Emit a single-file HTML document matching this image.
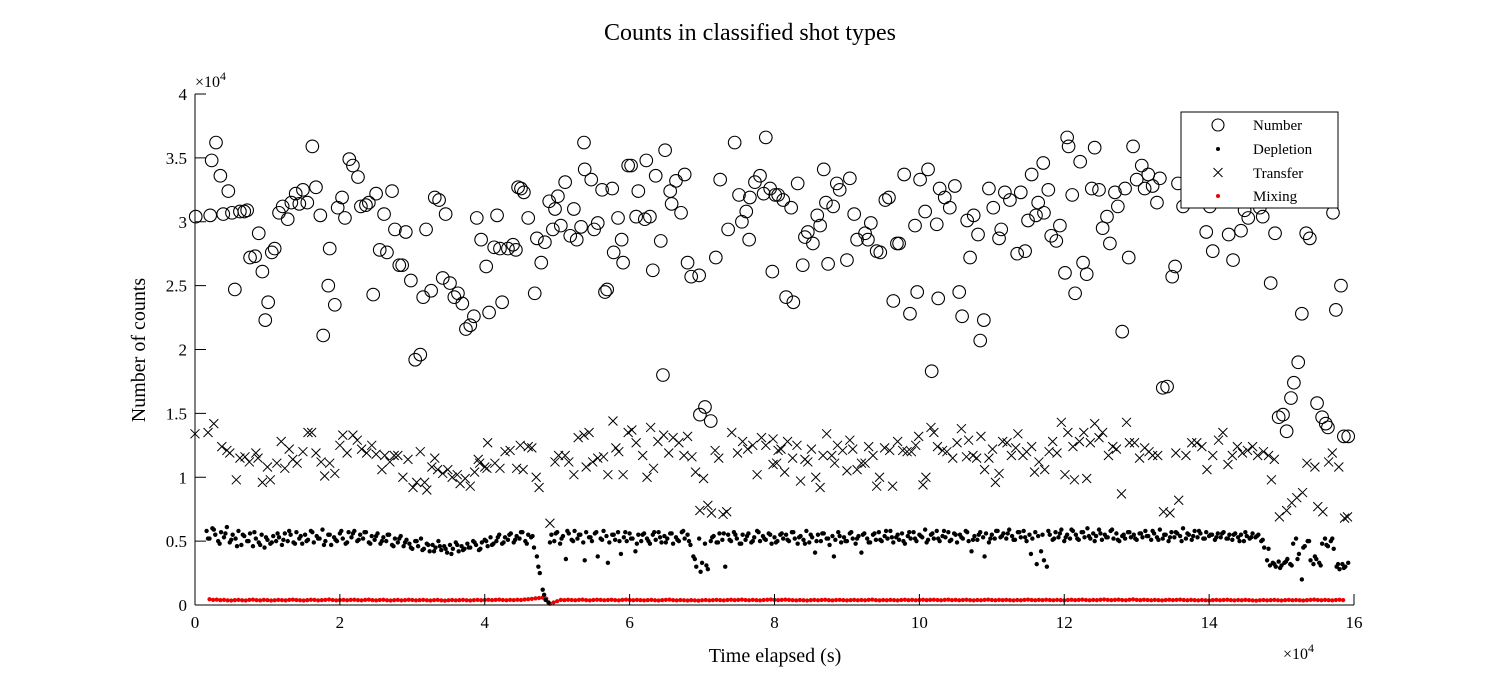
<!DOCTYPE html>
<html><head><meta charset="utf-8"><style>
html,body{margin:0;padding:0;background:#fff;}
svg{display:block;font-family:"Liberation Serif","DejaVu Serif",serif;}
</style></head><body>
<svg id="chart" width="1497" height="678" viewBox="0 0 1497 678" xmlns="http://www.w3.org/2000/svg">
<rect x="0" y="0" width="1497" height="678" fill="#fff"/>
<text x="750" y="40" text-anchor="middle" font-size="24">Counts in classified shot types</text>
<text transform="translate(145,350) rotate(-90)" text-anchor="middle" font-size="20">Number of counts</text>
<text x="775" y="662" text-anchor="middle" font-size="20">Time elapsed (s)</text>
<text x="195" y="87" font-size="16">×10<tspan dy="-7" font-size="12">4</tspan></text>
<text x="1283" y="659" font-size="16">×10<tspan dy="-7" font-size="12">4</tspan></text>
<g id="plot"></g>
<g id="axes"></g>
<g>
<rect x="1181" y="112" width="157" height="96" fill="#fff" stroke="#000" stroke-width="1"/>
<circle cx="1218" cy="125" r="6" fill="none" stroke="#000" stroke-width="1.1"/>
<text x="1253" y="130" font-size="15">Number</text>
<circle cx="1218" cy="149" r="2" fill="#000"/>
<text x="1253" y="154" font-size="15">Depletion</text>
<g stroke="#000" stroke-width="1"><line x1="1213.5" y1="168" x2="1222.5" y2="177"/><line x1="1213.5" y1="177" x2="1222.5" y2="168"/></g>
<text x="1253" y="178" font-size="15">Transfer</text>
<circle cx="1218" cy="196" r="2" fill="#e00"/>
<text x="1253" y="201" font-size="15">Mixing</text>
</g>
</svg>
<script>
// values in units of 1e4
const xTicks=[0,2,4,6,8,10,12,14,16];
const xTickLabels=["0","2","4","6","8","10","12","14","16"];
const yTicks=[0,0.5,1,1.5,2,2.5,3,3.5,4];
const yTickLabels=["0","0.5","1","1.5","2","2.5","3","3.5","4"];

const numT=[0.01,0.21,0.23,0.29,0.35,0.39,0.46,0.51,0.55,0.62,0.68,0.72,0.76,0.83,0.88,0.93,0.97,1.01,1.06,1.10,1.16,1.21,1.28,1.33,1.39,1.44,1.49,1.55,1.62,1.67,1.73,1.77,1.84,1.86,1.93,1.97,2.03,2.07,2.13,2.18,2.25,2.29,2.36,2.40,2.46,2.50,2.55,2.61,2.65,2.72,2.76,2.82,2.86,2.91,2.98,3.04,3.11,3.15,3.19,3.26,3.31,3.37,3.42,3.46,3.52,3.58,3.63,3.69,3.74,3.80,3.85,3.89,3.95,4.02,4.06,4.13,4.17,4.21,4.24,4.32,4.39,4.43,4.46,4.50,4.54,4.60,4.69,4.72,4.78,4.83,4.89,4.94,4.97,5.01,5.05,5.11,5.18,5.23,5.27,5.33,5.37,5.38,5.47,5.51,5.56,5.62,5.66,5.69,5.76,5.78,5.84,5.89,5.91,5.98,6.02,6.09,6.12,6.21,6.23,6.28,6.32,6.36,6.43,6.46,6.49,6.56,6.58,6.64,6.71,6.76,6.80,6.85,6.96,6.97,7.04,7.12,7.19,7.25,7.36,7.45,7.51,7.55,7.61,7.66,7.65,7.73,7.80,7.85,7.88,7.94,7.97,8.01,8.05,8.12,8.16,8.23,8.26,8.32,8.39,8.42,8.46,8.53,8.59,8.63,8.68,8.71,8.74,8.81,8.86,8.90,9.00,9.04,9.10,9.14,9.25,9.29,9.33,9.41,9.46,9.53,9.58,9.64,9.69,9.72,9.79,9.87,9.94,9.97,10.01,10.08,10.12,10.17,10.24,10.26,10.28,10.35,10.42,10.49,10.55,10.59,10.66,10.70,10.75,10.81,10.84,10.89,10.96,11.02,11.10,11.13,11.18,11.25,11.35,11.40,11.46,11.50,11.55,11.61,11.64,11.71,11.72,11.78,11.82,11.89,11.94,12.04,12.06,12.22,12.42,12.95,13.07,13.16,13.32,13.00,13.11,13.22,13.28,12.84,12.70,12.48,12.38,12.11,12.74,12.59,12.53,12.63,12.89,12.26,12.31,12.01,12.15,12.80,13.53,13.49,13.36,13.42,13.57,13.64,13.96,14.05,14.33,14.27,14.44,14.54,14.74,14.91,15.34,15.39,14.85,15.71,15.82,15.75,15.28,15.23,15.17,15.13,14.96,15.02,15.07,15.49,15.56,15.61,15.64,15.86,15.92,14.01,14.49,14.70];
const numV=[3.04,3.05,3.48,3.62,3.36,3.06,3.24,3.07,2.47,3.08,3.08,3.09,2.72,2.73,2.91,2.61,2.23,2.37,2.76,2.79,3.07,3.12,3.02,3.15,3.22,3.14,3.25,3.15,3.59,3.27,3.05,2.11,2.50,2.79,2.35,3.11,3.19,3.03,3.49,3.44,3.35,3.12,3.13,3.15,2.43,3.22,2.78,3.06,2.76,3.24,2.94,2.66,2.66,2.92,2.54,1.92,1.96,2.41,2.94,2.46,3.19,3.17,2.56,3.06,2.52,2.41,2.44,2.36,2.16,2.19,2.26,3.03,2.86,2.65,2.29,2.80,3.05,2.79,2.37,2.79,2.82,2.78,3.27,3.26,3.23,3.03,2.44,2.87,2.68,2.84,3.16,2.94,3.10,3.20,2.97,3.31,2.89,3.10,2.86,2.96,3.62,3.41,3.33,2.94,2.99,3.25,2.45,2.47,3.26,2.76,3.03,2.86,2.68,3.44,3.44,3.04,3.24,3.02,3.48,3.04,2.62,3.36,2.85,1.80,3.56,3.24,3.14,3.32,3.07,3.37,2.68,2.57,2.58,1.49,1.55,1.44,2.72,3.33,2.94,3.62,3.21,3.00,3.08,3.19,2.86,3.31,3.36,3.22,3.66,3.26,2.61,3.21,3.21,3.17,2.41,3.11,2.37,3.30,2.66,2.88,2.92,2.83,3.05,2.97,3.41,3.15,2.67,3.12,3.30,3.25,2.70,3.34,3.06,2.86,2.91,2.86,2.99,2.77,2.76,3.17,3.19,2.38,2.83,2.83,3.37,2.28,2.97,2.45,3.33,3.08,3.41,1.83,2.98,2.40,3.26,3.19,3.11,3.28,2.45,2.26,3.01,2.72,3.05,2.90,2.07,2.23,3.26,3.11,2.87,2.94,3.23,3.17,2.75,3.23,2.77,3.01,3.37,3.05,3.15,3.46,3.07,3.25,2.89,2.85,2.97,3.66,3.59,3.47,3.58,3.59,3.44,3.37,3.34,3.33,3.26,3.28,3.15,3.26,3.23,3.25,3.26,3.21,3.12,3.04,2.95,2.83,2.72,2.68,2.59,2.60,2.44,2.14,2.65,2.57,1.70,1.71,3.30,3.12,2.92,2.77,2.70,2.90,2.93,3.03,3.04,2.91,2.91,2.87,2.52,3.07,2.50,2.31,2.28,1.90,1.74,1.62,1.47,1.49,1.36,1.58,1.47,1.42,1.39,1.32,1.32,3.12,3.09,3.11];

const trT=[0.00,0.18,0.26,0.37,0.44,0.48,0.57,0.62,0.69,0.75,0.84,0.87,0.93,1.00,1.04,1.13,1.19,1.24,1.30,1.35,1.41,1.49,1.56,1.61,1.67,1.74,1.79,1.86,1.93,2.00,2.04,2.10,2.18,2.24,2.30,2.37,2.44,2.50,2.58,2.62,2.69,2.75,2.80,2.87,2.94,3.01,3.11,3.06,3.17,3.20,3.31,3.27,3.35,3.42,3.49,3.55,3.62,3.66,3.73,3.80,3.86,3.91,4.00,4.04,3.93,4.03,4.14,4.21,4.28,4.35,4.44,4.49,4.53,4.60,4.65,4.71,4.75,4.90,4.97,5.02,5.11,5.16,5.23,5.29,5.37,5.44,5.40,5.49,5.56,5.64,5.70,5.77,5.81,5.85,5.91,5.98,6.03,6.09,6.18,6.24,6.29,6.33,6.39,6.47,6.54,6.60,6.68,6.75,6.80,6.86,6.91,7.02,6.97,7.08,7.13,7.29,7.34,7.18,7.23,7.41,7.49,7.56,7.63,7.70,7.76,7.82,7.88,7.98,7.98,8.05,8.03,8.09,8.14,8.18,8.25,8.31,8.36,8.42,8.46,8.51,8.57,8.63,8.67,8.72,8.79,8.83,8.87,8.94,9.00,9.04,9.08,9.14,9.20,9.25,9.30,9.36,9.41,9.45,9.52,9.59,9.63,9.70,9.77,9.83,9.89,9.95,9.99,10.05,10.09,10.16,10.20,10.25,10.32,10.38,10.46,10.52,10.58,10.65,10.68,10.74,10.79,10.85,10.90,10.96,11.01,11.05,11.10,11.15,11.21,11.27,11.33,11.36,11.43,11.48,11.55,11.59,11.65,11.73,11.79,11.84,11.90,11.96,12.01,12.05,12.12,12.21,12.27,12.36,12.42,12.48,12.53,12.61,12.67,12.72,12.86,12.90,12.97,13.04,13.11,13.17,13.22,13.29,12.79,12.14,12.31,13.54,13.68,13.76,13.83,13.90,13.97,14.05,14.13,14.19,14.26,14.32,14.39,14.46,14.53,14.60,14.67,14.75,14.82,14.90,14.86,13.58,13.37,13.46,14.97,15.07,15.14,15.21,15.29,15.35,15.46,15.50,15.57,15.65,15.70,15.79,15.87,15.91];
const trV=[1.34,1.35,1.42,1.24,1.21,1.19,0.98,1.15,1.16,1.12,1.19,1.15,0.96,1.08,0.98,1.11,1.28,1.07,1.22,1.14,1.11,1.20,1.35,1.35,1.19,1.12,1.01,1.11,1.03,1.25,1.33,1.19,1.33,1.29,1.22,1.19,1.25,1.18,1.06,1.17,1.12,1.17,1.17,1.00,1.14,0.92,1.20,0.96,0.96,0.90,1.15,1.08,1.06,1.03,1.06,1.00,1.02,0.95,0.99,0.93,1.04,1.14,1.08,1.27,1.11,1.07,1.11,1.07,1.20,1.21,1.07,1.25,1.06,1.24,1.23,1.00,0.92,0.64,1.12,1.17,1.17,1.12,1.02,1.31,1.33,1.35,1.08,1.12,1.15,1.16,1.02,1.44,1.23,1.20,1.02,1.35,1.37,1.27,1.17,1.00,1.39,1.07,1.28,1.33,1.19,1.31,1.27,1.17,1.32,1.16,1.04,0.99,0.74,0.78,0.72,0.71,0.73,1.21,1.15,1.35,1.19,1.28,1.22,1.25,1.02,1.31,1.25,1.30,1.10,1.21,1.11,1.22,1.04,1.28,1.15,1.25,0.97,1.14,1.12,1.22,1.00,0.92,1.17,1.34,1.17,1.11,1.25,1.21,1.05,1.29,1.22,1.06,1.11,1.11,1.24,1.17,0.93,1.00,1.23,1.21,0.93,1.28,1.21,1.20,1.20,1.25,1.32,0.94,1.00,1.39,1.35,1.24,1.21,1.20,1.15,1.27,1.38,1.16,1.29,1.17,1.15,1.32,1.06,1.15,1.22,0.96,1.03,1.28,1.27,1.17,1.23,1.34,1.17,1.20,1.24,1.04,1.12,1.06,1.20,1.28,1.19,1.43,1.02,1.35,1.24,1.28,1.35,1.27,1.42,1.31,1.35,1.17,1.24,1.22,1.43,1.27,1.27,1.15,1.23,1.20,1.17,1.17,0.87,0.98,0.99,1.19,1.17,1.27,1.27,1.24,1.06,1.17,1.29,1.35,1.10,1.17,1.24,1.19,1.21,1.24,1.17,1.20,1.17,1.14,0.98,0.82,0.73,0.72,0.69,0.74,0.80,0.84,0.88,1.11,1.08,0.77,0.73,1.12,1.19,1.08,0.68,0.69];

const depStart=0.16, depStep=0.04;
const depV=[
0.58,0.52,0.60,0.55,0.50,0.57,0.53,0.61,0.49,0.55,0.52,0.58,0.47,0.54,0.50,0.56,0.46,0.52,0.49,0.55,0.45,0.51,0.48,0.54,0.50,
0.53,0.47,0.56,0.50,0.55,0.49,0.57,0.52,0.48,0.55,0.51,0.58,0.49,0.54,0.52,0.59,0.50,0.55,0.47,0.53,0.50,0.56,0.52,0.48,0.57,
0.53,0.58,0.50,0.55,0.52,0.57,0.49,0.54,0.51,0.56,0.48,0.53,0.50,0.55,0.47,0.52,0.49,0.54,0.46,0.51,0.48,0.44,0.50,0.46,0.52,
0.44,0.48,0.42,0.47,0.45,0.50,0.43,0.46,0.41,0.47,0.44,0.49,0.42,0.46,0.44,0.48,0.45,0.50,0.47,0.43,0.49,0.51,0.46,0.53,0.48,
0.50,0.55,0.48,0.53,0.51,0.56,0.49,0.54,0.52,0.57,0.50,0.55,0.53,0.45,0.38,0.25,0.12,0.04,0.02,0.55,0.50,0.57,0.48,0.54,0.36,
0.56,0.51,0.58,0.52,0.55,0.49,0.57,0.53,0.50,0.56,0.38,0.52,0.58,0.54,0.49,0.55,0.51,0.57,0.40,0.53,0.50,0.56,0.52,0.42,0.55,
0.50,0.56,0.52,0.48,0.55,0.51,0.57,0.49,0.54,0.52,0.56,0.48,0.53,0.50,0.57,0.52,0.55,0.47,0.38,0.30,0.52,0.33,0.48,0.28,0.50,
0.54,0.49,0.56,0.51,0.30,0.55,0.50,0.57,0.52,0.48,0.55,0.51,0.56,0.49,0.53,0.58,0.50,0.54,0.51,0.56,0.48,0.53,0.50,0.55,0.52,
0.55,0.50,0.57,0.52,0.48,0.54,0.51,0.58,0.49,0.53,0.41,0.55,0.50,0.56,0.52,0.47,0.54,0.51,0.57,0.49,0.53,0.50,0.56,0.52,0.48,
0.54,0.41,0.56,0.52,0.49,0.55,0.51,0.57,0.50,0.54,0.52,0.58,0.49,0.53,0.51,0.56,0.48,0.54,0.52,0.57,0.50,0.55,0.53,0.59,0.51,
0.55,0.52,0.58,0.50,0.54,0.53,0.57,0.51,0.56,0.49,0.55,0.52,0.58,0.50,0.42,0.54,0.51,0.57,0.53,0.56,0.49,0.55,0.52,0.58,0.53,
0.56,0.52,0.59,0.54,0.51,0.57,0.53,0.58,0.50,0.55,0.52,0.57,0.54,0.42,0.35,0.30,0.55,0.51,0.57,0.53,0.59,0.50,0.55,0.52,0.58,
0.55,0.51,0.57,0.53,0.60,0.52,0.56,0.54,0.59,0.51,0.55,0.53,0.58,0.52,0.56,0.50,0.54,0.52,0.57,0.53,0.55,0.51,0.56,0.53,0.58,
0.54,0.51,0.56,0.53,0.59,0.52,0.55,0.50,0.57,0.53,0.56,0.54,0.60,0.52,0.55,0.51,0.58,0.53,0.56,0.52,0.57,0.54,0.55,0.51,0.56,
0.53,0.57,0.52,0.55,0.51,0.56,0.53,0.55,0.50,0.54,0.52,0.56,0.53,0.55,0.50,0.45,0.35,0.31,0.33,0.30,0.34,0.31,0.33,0.36,0.32,
0.48,0.52,0.40,0.20,0.46,0.50,0.35,0.32,0.36,0.33,0.48,0.52,0.46,0.50,0.44,0.30,0.28,0.32,0.30,0.33];

const depBStart=0.18, depBStep=0.08;
const depBV=[
0.52,0.59,0.48,0.56,0.51,0.46,0.55,0.50,0.57,0.47,0.53,0.49,0.56,0.51,0.58,0.48,0.54,0.50,0.57,0.52,0.47,0.55,0.51,0.58,0.49,
0.56,0.51,0.57,0.48,0.54,0.50,0.55,0.46,0.52,0.49,0.45,0.50,0.43,0.47,0.42,0.46,0.44,0.40,0.47,0.43,0.45,0.49,0.44,0.50,0.47,
0.53,0.49,0.55,0.51,0.57,0.48,0.54,0.30,0.08,0.49,0.56,0.52,0.58,0.50,0.55,0.35,0.53,0.57,0.51,0.33,0.55,0.50,0.57,0.52,0.48,
0.55,0.50,0.57,0.53,0.49,0.56,0.51,0.58,0.50,0.36,0.26,0.31,0.53,0.49,0.56,0.51,0.55,0.48,0.54,0.50,0.57,0.52,0.55,0.49,0.56,
0.51,0.57,0.53,0.48,0.55,0.50,0.56,0.52,0.38,0.54,0.50,0.57,0.52,0.55,0.49,0.56,0.51,0.58,0.53,0.55,0.50,0.57,0.52,0.54,0.49,
0.56,0.52,0.58,0.50,0.55,0.53,0.57,0.51,0.55,0.38,0.52,0.58,0.54,0.56,0.51,0.57,0.53,0.40,0.32,0.55,0.58,0.52,0.56,0.53,0.59,
0.52,0.57,0.54,0.50,0.56,0.53,0.59,0.51,0.55,0.57,0.52,0.56,0.54,0.58,0.51,0.55,0.53,0.57,0.50,0.56,0.54,0.58,0.52,0.55,0.53,
0.56,0.52,0.55,0.50,0.57,0.53,0.54,0.51,0.44,0.32,0.29,0.34,0.31,0.36,0.45,0.50,0.38,0.31,0.47,0.52,0.32,0.29];

const mixStart=0.2, mixStep=0.05;
const mixV=[
0.045,0.040,0.042,0.038,0.040,0.036,0.035,0.038,0.040,0.037,0.035,0.040,0.042,0.038,0.036,0.040,0.038,0.035,0.037,0.040,
0.038,0.036,0.040,0.042,0.039,0.037,0.035,0.038,0.041,0.040,0.036,0.038,0.040,0.043,0.039,0.036,0.038,0.040,0.037,0.040,
0.041,0.038,0.036,0.040,0.042,0.038,0.036,0.039,0.041,0.037,0.035,0.038,0.040,0.036,0.038,0.041,0.039,0.036,0.038,0.040,
0.037,0.035,0.038,0.040,0.036,0.034,0.037,0.039,0.036,0.038,0.040,0.037,0.035,0.038,0.040,0.037,0.039,0.041,0.038,0.040,
0.042,0.039,0.037,0.040,0.038,0.041,0.039,0.043,0.045,0.048,0.052,0.055,0.058,0.050,0.010,0.020,0.030,0.040,0.038,0.041,
0.039,0.037,0.040,0.042,0.038,0.036,0.039,0.041,0.040,0.037,0.039,0.041,0.038,0.036,0.040,0.042,0.039,0.037,0.040,0.038,
0.036,0.038,0.040,0.037,0.035,0.038,0.040,0.042,0.038,0.036,0.039,0.037,0.035,0.038,0.036,0.034,0.037,0.039,0.036,0.038,
0.040,0.038,0.036,0.039,0.041,0.038,0.040,0.042,0.039,0.037,0.040,0.038,0.036,0.039,0.041,0.043,0.040,0.038,0.040,0.042,
0.040,0.038,0.036,0.039,0.037,0.035,0.038,0.040,0.037,0.039,0.041,0.038,0.036,0.039,0.040,0.038,0.036,0.038,0.040,0.037,
0.039,0.037,0.040,0.042,0.038,0.036,0.039,0.037,0.040,0.038,0.036,0.039,0.041,0.038,0.040,0.037,0.039,0.041,0.038,0.040,
0.041,0.039,0.037,0.040,0.042,0.038,0.040,0.037,0.039,0.041,0.038,0.036,0.039,0.037,0.040,0.042,0.039,0.037,0.040,0.038,
0.040,0.038,0.036,0.039,0.037,0.040,0.042,0.039,0.037,0.040,0.038,0.041,0.039,0.037,0.040,0.038,0.036,0.039,0.041,0.038,
0.040,0.042,0.039,0.037,0.040,0.038,0.041,0.043,0.040,0.038,0.040,0.042,0.039,0.037,0.041,0.044,0.040,0.038,0.041,0.039,
0.037,0.040,0.038,0.036,0.039,0.041,0.038,0.040,0.042,0.039,0.037,0.040,0.038,0.036,0.039,0.037,0.035,0.038,0.040,0.037,
0.039,0.041,0.038,0.036,0.039,0.037,0.040,0.038,0.036,0.034,0.037,0.039,0.036,0.038,0.040,0.037,0.035,0.038,0.040,0.037,
0.039,0.037,0.035,0.038,0.040,0.042,0.039,0.037,0.040,0.038,0.036,0.039,0.041,0.038];

const X0=195, X1=1354, Y0=605, Y1=94;
function xs(v){return X0+(v/16)*(X1-X0);}
function ys(v){return Y0-(v/4)*(Y0-Y1);}
const NS="http://www.w3.org/2000/svg";
const plot=document.getElementById('plot');
const axes=document.getElementById('axes');
function mk(tag,attrs,parent){const e=document.createElementNS(NS,tag);for(const k in attrs)e.setAttribute(k,attrs[k]);parent.appendChild(e);return e;}

// mixing
const gMix=mk('g',{fill:'#e00'},plot);


mixV.forEach((v,i)=>{const t=mixStart+i*mixStep;if(t>15.95)return;
 const c=mk('circle',{cx:xs(t),cy:ys(v),r:2.1},gMix);
 
 });
// depletion
const gDep=mk('g',{fill:'#000'},plot);


depV.forEach((v,i)=>{const t=depStart+i*depStep;
 const c=mk('circle',{cx:xs(t),cy:ys(v),r:2.2},gDep);
 
 });
depBV.forEach((v,i)=>{const t=depBStart+i*depBStep;
 const c=mk('circle',{cx:xs(t),cy:ys(v),r:2.2},gDep);
 
 });
// transfer
const gTr=mk('g',{stroke:'#000','stroke-width':1,fill:'none'},plot);


trT.forEach((t,i)=>{const x=xs(t),y=ys(trV[i]),s=4.5;
 const p=mk('path',{d:`M${x-s},${y-s}L${x+s},${y+s}M${x-s},${y+s}L${x+s},${y-s}`},gTr);
 
 });
// number
const gNum=mk('g',{stroke:'#000','stroke-width':1.1,fill:'none'},plot);


numT.forEach((t,i)=>{
 const c=mk('circle',{cx:xs(t),cy:ys(numV[i]),r:6.3},gNum);
 
 });

// axes
const yl=mk('line',{x1:X0,y1:Y0,x2:X0,y2:Y1,stroke:'#000','stroke-width':1},axes);


const xl=mk('line',{x1:X0,y1:Y0,x2:X1,y2:Y0,stroke:'#000','stroke-width':1},axes);


xTicks.forEach((v,i)=>{const x=xs(v);
 const l=mk('line',{x1:x,y1:Y0,x2:x,y2:Y0-11,stroke:'#000','stroke-width':1},axes);
 
 
 const tx=mk('text',{x:x,y:Y0+23,'text-anchor':'middle','font-size':17},axes);
 tx.textContent=xTickLabels[i];
 
 });
yTicks.forEach((v,i)=>{const y=ys(v);
 const l=mk('line',{x1:X0,y1:y,x2:X0+11,y2:y,stroke:'#000','stroke-width':1},axes);
 
 
 const tx=mk('text',{x:X0-8,y:y+6,'text-anchor':'end','font-size':17},axes);
 tx.textContent=yTickLabels[i];
 
 });
</script>
</body></html>
